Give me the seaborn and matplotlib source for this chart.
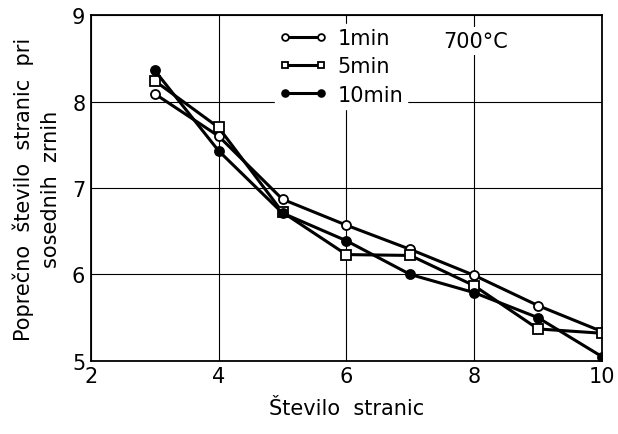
import matplotlib
matplotlib.use("Agg")
import matplotlib.pyplot as plt
import seaborn as sns
import pandas as pd

sides = [3, 4, 5, 6, 7, 8, 9, 10]
series_names = ["1min", "5min", "10min"]
vals_1min = [8.09, 7.60, 6.87, 6.57, 6.29, 5.99, 5.64, 5.34]
vals_5min = [8.24, 7.70, 6.72, 6.23, 6.22, 5.87, 5.37, 5.32]
vals_10min = [8.36, 7.43, 6.71, 6.39, 6.00, 5.79, 5.50, 5.05]
x_ticks = [2, 4, 6, 8, 10]
y_ticks = [5, 6, 7, 8, 9]
x_label = "Število  stranic"
y_label = "Poprečno  število  stranic  pri\nsosednih  zrnih"
note = "700°C"

sns.set_theme(style="white")
plt.rcParams['font.family'] = ['DejaVu Sans']
plt.rcParams['text.color'] = 'black'

df = pd.DataFrame({
    "x": sides * 3,
    "y": vals_1min + vals_5min + vals_10min,
    "s": sum([[n] * len(sides) for n in series_names], []),
})

fig = plt.figure(figsize=(6.18, 4.35), dpi=100)
ax = fig.add_axes([0.147, 0.168, 0.827, 0.795])

styles = {
    "1min": dict(marker="o", markerfacecolor="white"),
    "5min": dict(marker="s", markerfacecolor="white"),
    "10min": dict(marker="o", markerfacecolor="black"),
}
for n in series_names:
    sub = df[df["s"] == n]
    sns.lineplot(data=sub, x="x", y="y", ax=ax, color="black", linewidth=2.2,
                 markersize=6.5, markeredgecolor="black", markeredgewidth=1.3,
                 label=n, **styles[n])

ax.set_xlim(2, 10)
ax.set_ylim(5, 9)
ax.set_xticks(x_ticks)
ax.set_yticks(y_ticks)
ax.grid(True, color="black", linewidth=0.8)
ax.set_axisbelow(True)
for sp in ax.spines.values():
    sp.set_color("black")
    sp.set_linewidth(1.3)
ax.tick_params(axis="both", length=0, labelsize=15, colors="black", pad=4)
ax.set_xlabel(x_label, fontsize=15, color="black", labelpad=8)
ax.set_ylabel(y_label, fontsize=15, color="black", labelpad=8, linespacing=1.4)

leg = ax.legend(loc="upper left", bbox_to_anchor=(0.36, 0.975), frameon=True,
                fontsize=15, numpoints=2, handlelength=2.3, handletextpad=0.5,
                labelspacing=0.4, borderpad=0.2, borderaxespad=0, markerscale=0.75,
                labelcolor="black")
leg.get_frame().set_edgecolor("white")
leg.get_frame().set_facecolor("white")
leg.get_frame().set_alpha(1)

ax.text(0.69, 0.925, note, transform=ax.transAxes, fontsize=15, color="black",
        ha="left", va="center",
        bbox=dict(facecolor="white", edgecolor="none", pad=3))

fig.savefig("out.png", dpi=100)
